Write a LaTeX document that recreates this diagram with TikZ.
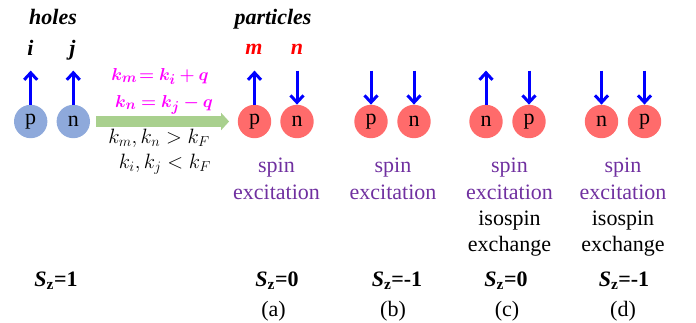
\documentclass[tikz,border=0pt]{standalone}
\usepackage{amsmath,bm}
\usepackage{fontspec}
\setmainfont{Liberation Serif}
\usetikzlibrary{arrows.meta}
\definecolor{holeblue}{HTML}{8EA9DB}
\definecolor{partred}{HTML}{FF6B6B}
\definecolor{arrgreen}{HTML}{A9D08E}
\definecolor{spinpurple}{HTML}{7030A0}
\definecolor{arrblue}{HTML}{0000FF}
\definecolor{eqmagenta}{HTML}{FF00FF}
\newcommand\myfs{\fontsize{22}{26}\selectfont}
\newcommand\mathfs{\fontsize{19}{23}\selectfont}
\newcommand\mathfsb{\fontsize{20}{24}\selectfont}
\tikzset{
  ball/.style={circle,minimum size=33.4pt,inner sep=0pt,font=\myfs},
  hole/.style={ball,fill=holeblue},
  part/.style={ball,fill=partred},
  spinarr/.style={draw=arrblue,line width=3pt,-{Straight Barb[length=7pt 0 0,width=13pt 0 0,line width=3pt]}},
  greenarr/.style={draw=arrgreen,line width=11pt,-{Triangle[length=8pt 0 0,width=17pt 0 0]}},
  lbl/.style={anchor=base,font=\myfs,inner sep=0pt},
  hdr/.style={lbl,font=\myfs\bfseries\itshape},
  purp/.style={lbl,text=spinpurple},
  eqm/.style={anchor=base,font=\mathfs,inner sep=0pt,text=eqmagenta},
  eqb/.style={anchor=base,font=\mathfsb,inner sep=0pt},
}
\newcommand\Sz[1]{{\bfseries\itshape S}\textsubscript{\bfseries z}\textbf{=#1}}
\begin{document}
\begin{tikzpicture}[x=1pt,y=-1pt]
\useasboundingbox (0,0) rectangle (696,322);
% headers
\node[hdr] (tholes) at (53,24) {holes};
\node[hdr] (tparts) at (273,24) {particles};
\node[hdr] (ti) at (30.5,55) {i};
\node[hdr] (tj) at (72.5,55) {j};
\node[hdr,text=red] (tm) at (254,54) {m};
\node[hdr,text=red] (tn) at (297,54) {n};
% holes
\node[hole] (hp) at (30.7,121.5) {p};
\node[hole] (hn) at (73.3,121.5) {n};
% particles
\node[part] (ap) at (254.5,121.5) {p};
\node[part] (an) at (297,121.5) {n};
\node[part] (bp) at (371,121.5) {p};
\node[part] (bn) at (414,121.5) {n};
\node[part] (cn) at (486,121.5) {n};
\node[part] (cp) at (529,121.5) {p};
\node[part] (dn) at (601.5,121.5) {n};
\node[part] (dp) at (644.5,121.5) {p};
% arrow top coordinates
\foreach \n in {hp,hn,ap,an,bp,bn,cn,cp,dn,dp}{
  \coordinate (\n t) at ([yshift=34pt]\n.north);
}
\draw[spinarr] (hp.north) -- (hpt);
\draw[spinarr] (hn.north) -- (hnt);
\draw[spinarr] (ap.north) -- (apt);
\draw[spinarr] (ant) -- (an.north);
\draw[spinarr] (bpt) -- (bp.north);
\draw[spinarr] (bnt) -- (bn.north);
\draw[spinarr] (cn.north) -- (cnt);
\draw[spinarr] (cpt) -- (cp.north);
\draw[spinarr] (dnt) -- (dn.north);
\draw[spinarr] (dpt) -- (dp.north);
% green arrow
\draw[greenarr,shorten <=6pt,shorten >=8.5pt] (hn) -- (ap);
% equations
\node[eqm] (e1) at (160,80) {$\boldsymbol{k_m\!= k_i + q}$};
\node[eqm] (e2) at (164,107) {$\boldsymbol{k_n = k_j - q}$};
\node[eqb] (e3) at (159,143) {$k_m,k_n > k_F$};
\node[eqb] (e4) at (165,168) {$k_i,k_j < k_F$};
% descriptions
\node[purp] (sa1) at (276.5,172) {spin};
\node[purp] (sa2) at (276.5,199) {excitation};
\node[purp] (sb1) at (393,172) {spin};
\node[purp] (sb2) at (393,199) {excitation};
\node[purp] (sc1) at (509.5,172) {spin};
\node[purp] (sc2) at (509.5,199) {excitation};
\node[lbl] (sc3) at (509.5,225) {isospin};
\node[lbl] (sc4) at (509.5,251) {exchange};
\node[purp] (sd1) at (623,172) {spin};
\node[purp] (sd2) at (623,199) {excitation};
\node[lbl] (sd3) at (623,225) {isospin};
\node[lbl] (sd4) at (623,251) {exchange};
% Sz
\node[lbl] (z0) at (56,286) {\Sz{1}};
\node[lbl] (za) at (277,286) {\Sz{0}};
\node[lbl] (zb) at (397,286) {\Sz{-1}};
\node[lbl] (zc) at (506,286) {\Sz{0}};
\node[lbl] (zd) at (624,286) {\Sz{-1}};
\node[lbl] (la) at (273.5,316) {(a)};
\node[lbl] (lb) at (393,316) {(b)};
\node[lbl] (lc) at (507,316) {(c)};
\node[lbl] (ld) at (623,316) {(d)};
\end{tikzpicture}
\end{document}
